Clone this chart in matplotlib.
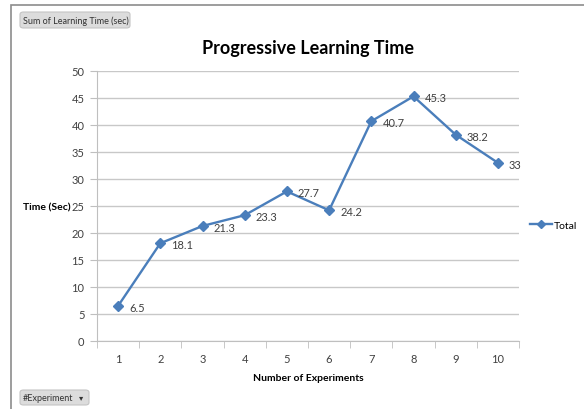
import matplotlib.pyplot as plt
from matplotlib.patches import FancyBboxPatch, Rectangle

# learning time per experiment
experiments = [1, 2, 3, 4, 5, 6, 7, 8, 9, 10]
learning_time = [6.5, 18.1, 21.3, 23.3, 27.7, 24.2, 40.7, 45.3, 38.2, 33]

plt.rcParams['font.family'] = ['Lato', 'DejaVu Sans']
txt = '#404040'
blue = '#4A7EBB'

fig = plt.figure(figsize=(5.84, 4.10), dpi=100)
W, H = 584, 410

# chart frame
fig.patches.append(Rectangle((11 / W, -0.1), 1.2, (410 - 6) / H + 0.1,
                             transform=fig.transFigure, fill=False,
                             edgecolor='#8c8c8c', linewidth=1.2))

ax = fig.add_axes([97 / W, (H - 342) / H, 422 / W, 270 / H])
ax.plot(experiments, learning_time, color=blue, linewidth=1.7,
        marker='D', markersize=5, label='Total')
for x, y in zip(experiments, learning_time):
    ax.annotate(f'{y:g}', (x, y), xytext=(8, -1), textcoords='offset points',
                va='center', ha='left', fontsize=8, color=txt)

ax.set_xlim(0.5, 10.5)
ax.set_ylim(0, 50)
ax.set_yticks(range(0, 51, 5))
ax.set_xticks(experiments)
ax.set_xticks([i + 0.5 for i in range(0, 11)], minor=True)
ax.tick_params(axis='x', which='major', length=0, pad=9, labelsize=8, labelcolor=txt)
ax.tick_params(axis='x', which='minor', length=5, color='#bfbfbf', direction='out')
ax.tick_params(axis='y', length=5, color='#bfbfbf', labelsize=8, labelcolor=txt, pad=4)
ax.grid(axis='y', color='#c8c8c8', linewidth=1)
ax.set_axisbelow(True)
for s in ['top', 'right']:
    ax.spines[s].set_visible(False)
for s in ['left', 'bottom']:
    ax.spines[s].set_color('#bfbfbf')

ax.set_title('Progressive Learning Time', fontsize=13, fontweight='bold',
             color='black', pad=13)
ax.set_xlabel('Number of Experiments', fontsize=7.5, fontweight='bold',
              color='black', labelpad=6)
fig.text(71 / W, 1 - 208 / H, 'Time (Sec)', fontsize=7.5, fontweight='bold',
         ha='right', va='center')

ax.legend(loc='center left', bbox_to_anchor=(521 / W, 1 - 226 / H),
          bbox_transform=fig.transFigure, frameon=False, fontsize=7.5,
          handlelength=2.1, handletextpad=0.15, markerscale=0.8,
          labelcolor='black')

# pivot field buttons
def field_button(x0, y0, w, h, label):
    fig.patches.append(FancyBboxPatch((x0 / W, 1 - (y0 + h) / H), w / W, h / H,
                                      boxstyle='round,pad=0,rounding_size=0.006',
                                      transform=fig.transFigure,
                                      facecolor='#dcdcdc', edgecolor='#c4c4c4',
                                      linewidth=0.8))
    fig.text((x0 + 3) / W, 1 - (y0 + h / 2) / H, label, fontsize=6.5,
             va='center', ha='left', color='#333333')

field_button(20, 13, 110, 16, 'Sum of Learning Time (sec)')
field_button(20, 391, 69, 15, '#Experiment')
fig.text(81 / W, 1 - 398 / H, '\u25BE', fontsize=6, va='center', ha='center',
         color='#333333', family=['DejaVu Sans'])

fig.savefig('out.png', dpi=100)
